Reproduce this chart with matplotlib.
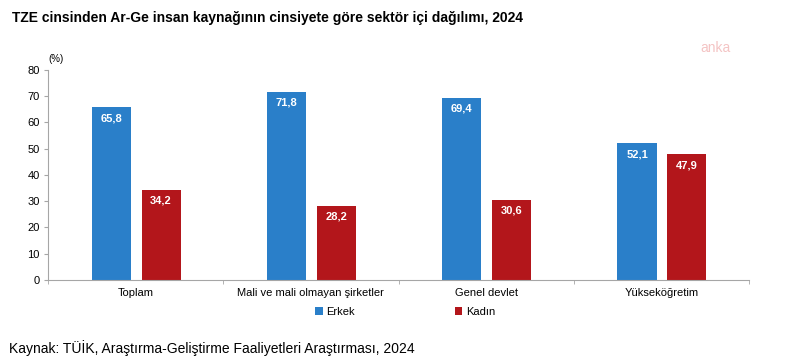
import matplotlib.pyplot as plt
import numpy as np

categories = ['Toplam', 'Mali ve mali olmayan şirketler', 'Genel devlet', 'Yükseköğretim']
erkek = [65.8, 71.8, 69.4, 52.1]
kadin = [34.2, 28.2, 30.6, 47.9]

blue = '#2A7FC9'
red = '#B3161B'
grey = '#A6A6A6'

plt.rcParams['font.family'] = ['Liberation Sans', 'DejaVu Sans']

fig = plt.figure(figsize=(7.91, 3.64), dpi=100)
ax = fig.add_axes([0.0607, 0.2308, 0.8862, 0.5769])

x = np.arange(len(categories))
w = 0.223
ax.bar(x - 0.139, erkek, w, color=blue, label='Erkek')
ax.bar(x + 0.145, kadin, w, color=red, label='Kadın')
b1, b2 = ax.containers

for bars, vals in ((b1, erkek), (b2, kadin)):
    for r, v in zip(bars, vals):
        ax.text(r.get_x() + r.get_width() / 2, v - 2.2, f'{v:.1f}'.replace('.', ','),
                ha='center', va='top', color='white', fontsize=8, fontweight='bold')

ax.set_xlim(-0.5, len(categories) - 0.5)
ax.set_ylim(0, 80)
ax.set_yticks(range(0, 81, 10))
ax.set_xticks(x)
ax.set_xticklabels(categories, fontsize=8)
ax.set_xticks(np.arange(-0.5, len(categories)), minor=True)
ax.tick_params(axis='x', which='major', length=0, pad=6)
ax.tick_params(axis='x', which='minor', length=3, color=grey)
ax.tick_params(axis='y', labelsize=8, length=3, color=grey, pad=3)
for s in ('top', 'right'):
    ax.spines[s].set_visible(False)
for s in ('left', 'bottom'):
    ax.spines[s].set_color(grey)

ax.text(0.0, 1.03, '(%)', transform=ax.transAxes, fontsize=7, ha='left', va='bottom')

fig.text(0.015, 0.95, 'TZE cinsinden Ar-Ge insan kaynağının cinsiyete göre sektör içi dağılımı, 2024',
         fontsize=10, fontweight='bold', va='center')
fig.text(0.885, 0.868, 'anka', fontsize=10, color='#F4C4C4', va='center', ha='left')
fig.text(0.012, 0.045, 'Kaynak: TÜİK, Araştırma-Geliştirme Faaliyetleri Araştırması, 2024',
         fontsize=10, va='center')

fig.legend(handles=[b1, b2], loc='center', bbox_to_anchor=(0.512, 0.143), ncol=2,
           frameon=False, fontsize=8, handlelength=0.7, handleheight=0.7,
           handletextpad=0.3, columnspacing=9)

fig.savefig('out.png', dpi=100)
